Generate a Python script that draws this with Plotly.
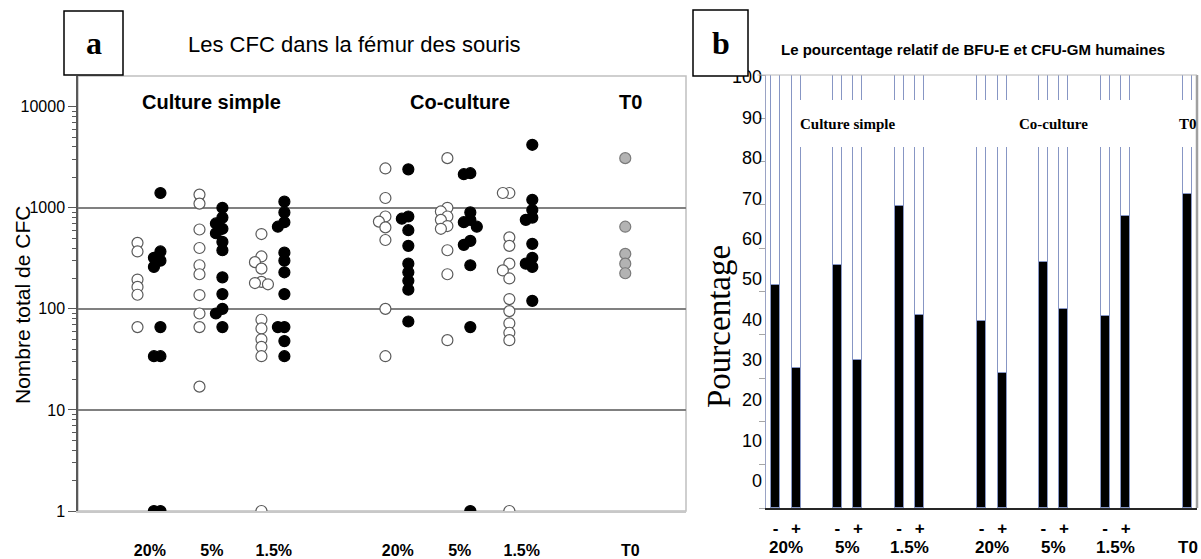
import numpy as np
import plotly.graph_objects as go

W, H = 1201, 559

# ---------------- Panel a : CFC per femur (log scale) ----------------
a_groups = ["20%", "5%", "1.5%", "20%", "5%", "1.5%", "T0"]
a_sections = ["Culture simple", "Co-culture", "T0"]

cs20_open = [450, 370, 195, 165, 138, 66]
cs20_fill = [1400, 370, 320, 300, 260, 66, 34, 34, 1, 1]
cs5_open = [1350, 1100, 610, 400, 270, 220, 137, 90, 66, 17]
cs5_fill = [1000, 800, 700, 620, 560, 460, 380, 205, 140, 100, 90, 66]
cs15_open = [550, 330, 290, 250, 185, 180, 175, 78, 64, 50, 42, 34, 1]
cs15_fill = [1150, 900, 720, 650, 360, 300, 230, 140, 66, 66, 48, 34]
co20_open = [2450, 1250, 820, 730, 640, 480, 100, 34]
co20_fill = [2400, 820, 780, 600, 420, 280, 230, 190, 155, 75]
co5_open = [3100, 1000, 920, 820, 760, 660, 620, 380, 220, 49]
co5_fill = [2200, 2150, 900, 760, 720, 650, 470, 430, 270, 66, 1]
co15_open = [1400, 1400, 510, 420, 280, 240, 200, 125, 95, 72, 58, 49, 1]
co15_fill = [4200, 1200, 950, 800, 760, 440, 320, 280, 260, 120]
t0_vals = [3100, 650, 350, 280, 225]

a_open = [cs20_open, cs5_open, cs15_open, co20_open, co5_open, co15_open]
a_fill = [cs20_fill, cs5_fill, cs15_fill, co20_fill, co5_fill, co15_fill]

# ---------------- Panel b : relative % BFU-E / CFU-GM ----------------
b_groups = ["20%", "5%", "1.5%", "20%", "5%", "1.5%", "T0"]
b_signs = ["-", "+", "-", "+", "-", "+", "-", "+", "-", "+", "-", "+", ""]
bfu_e = [51.4, 32.3, 56.2, 34.2, 69.7, 44.6, 43.1, 31.1, 56.9, 46.0, 44.3, 67.5, 72.5]
cfu_gm = [48.6, 67.7, 43.8, 65.8, 30.3, 55.4, 56.9, 68.9, 43.1, 54.0, 55.7, 32.5, 27.5]
b_ticks = list(range(0, 101, 10))

# ---------------- layout helpers ----------------
SANS = "Liberation Sans, Arial, sans-serif"
NARROW = "Liberation Sans Narrow, Arial Narrow, Liberation Sans, sans-serif"
SERIF = "Liberation Serif, Times New Roman, serif"


def px(x):
    return x / W


def py(y):
    return 1 - y / H


# panel a geometry
A_X0, A_X1, A_Y0, A_Y1 = 78, 686, 76, 511
a_slots = [0, 1, 2, 4, 5, 6, 7.75]
a_section_slots = [1, 5, 7.75]
a_xrange = [-1.16, 8.65]
a_decades = 4.304
decade_px = (A_Y1 - A_Y0) / a_decades
unit_px = (A_X1 - A_X0) / (a_xrange[1] - a_xrange[0])
dodge_step = 6.5 / unit_px

# panel b geometry
B_X0, B_X1, B_Y0, B_Y1 = 766, 1197, 75, 508
bar_slots = [0, 1, 3, 4, 6, 7, 10, 11, 13, 14, 16, 17, 20]
b_pair_centers = [0.5, 3.5, 6.5, 10.5, 13.5, 16.5, 20]
b_section_centers = [3.5, 13.5, 20]


def dodge(values, min_gap=7.0, order=(0, -1, 1, -2, 2)):
    """Side-step points whose markers would sit on top of each other."""
    placed, shifts = [], []
    for v in values:
        y = np.log10(v) * decade_px
        for k in order:
            if all(abs(y - yy) >= min_gap for yy, kk in placed if kk == k):
                break
        placed.append((y, k))
        shifts.append(k)
    return shifts


fig = go.Figure()

# invisible point keeps the overlaid tick-label axis of panel a alive
fig.add_trace(go.Scatter(x=[0], y=[1], mode="markers", marker=dict(opacity=0),
                         xaxis="x", yaxis="y3", showlegend=False, hoverinfo="skip"))


def add_column(vals, slot, side, fill, line):
    shifts = dodge(vals)
    xs = [slot + side + k * dodge_step for k in shifts]
    fig.add_trace(go.Scatter(
        x=xs, y=vals, mode="markers", xaxis="x", yaxis="y", showlegend=False,
        marker=dict(symbol="circle", size=11, color=fill,
                    line=dict(color=line, width=1.2)),
    ))


for i in range(6):
    add_column(a_open[i], a_slots[i], -0.2, "white", "#5a5a5a")
    add_column(a_fill[i], a_slots[i], 0.17, "black", "black")
add_column(t0_vals, a_slots[6], -0.08, "#b3b3b3", "#7a7a7a")

# panel b stacked bars
fig.add_trace(go.Bar(x=bar_slots, y=bfu_e, width=0.44, name="BFU-E",
                     marker=dict(color="black", line=dict(color="#8796c4", width=1)),
                     xaxis="x2", yaxis="y2", showlegend=False))
fig.add_trace(go.Bar(x=bar_slots, y=cfu_gm, width=0.44, name="CFU-GM",
                     marker=dict(color="white", line=dict(color="#8796c4", width=1)),
                     xaxis="x2", yaxis="y2", showlegend=False))
fig.add_trace(go.Scatter(x=[0], y=[0], mode="markers", marker=dict(opacity=0),
                         xaxis="x2", yaxis="y4", showlegend=False, hoverinfo="skip"))

minor_vals = [m * 10 ** k for k in range(4) for m in range(2, 10)]

fig.update_layout(
    width=W, height=H,
    margin=dict(l=0, r=0, t=0, b=0, autoexpand=False),
    paper_bgcolor="white", plot_bgcolor="white",
    barmode="stack", bargap=0,
    font=dict(family=SANS, color="black"),
    xaxis=dict(domain=[px(A_X0), px(A_X1)], range=a_xrange, anchor="y",
               tickmode="array", tickvals=a_slots, ticktext=a_groups,
               tickfont=dict(size=16, family=SANS, weight="bold"),
               ticks="", ticklabelstandoff=24, showgrid=False, zeroline=False,
               showline=True, linecolor="#c8c8c8", linewidth=2, automargin=False),
    yaxis=dict(type="log", domain=[py(A_Y1), py(A_Y0)], range=[0, a_decades],
               anchor="x", tickmode="array", tickvals=[10, 100, 1000],
               showticklabels=False, ticks="", showgrid=True,
               gridcolor="#808080", gridwidth=2, zeroline=False, showline=False,
               automargin=False),
    yaxis3=dict(type="log", overlaying="y", anchor="x", range=[0, a_decades],
                tickmode="array", tickvals=[1, 10, 100, 1000, 10000],
                ticktext=["1", "10", "100", "1000", "10000"],
                tickfont=dict(size=16, family=SANS), ticks="outside", ticklen=8,
                tickcolor="#595959", showline=True, linecolor="#595959",
                linewidth=1.5, showgrid=False, zeroline=False, automargin=False,
                minor=dict(tickmode="array", tickvals=minor_vals, ticks="outside",
                           ticklen=4, tickcolor="#595959", showgrid=False)),
    xaxis2=dict(domain=[px(B_X0), px(B_X1)], range=[-0.46, 20.46], anchor="y2",
                tickmode="array", tickvals=bar_slots, ticktext=b_signs,
                tickfont=dict(size=17, family=NARROW, weight="bold"),
                ticks="", ticklabelstandoff=4, showgrid=False, zeroline=False,
                showline=True, linecolor="#262626", linewidth=1.5, automargin=False),
    yaxis2=dict(domain=[py(B_Y1), py(B_Y0)], range=[0, 100], anchor="x2",
                tickmode="array", tickvals=b_ticks, showticklabels=False,
                ticks="outside", ticklen=6, tickcolor="#a6a6a6",
                showline=True, linecolor="#9aa3c4", linewidth=1.2,
                showgrid=False, zeroline=False, automargin=False),
    yaxis4=dict(overlaying="y2", anchor="x2", range=[-6.7, 100.5],
                tickmode="array", tickvals=b_ticks,
                tickfont=dict(size=18, family=NARROW), ticks="",
                ticklabelstandoff=3, automargin=False,
                showline=False, showgrid=False, zeroline=False),
)

shapes = [
    # panel a frame
    dict(type="rect", xref="x domain", yref="y domain", x0=0, x1=1, y0=0, y1=1,
         line=dict(color="#c0c0c0", width=1.5), layer="below"),
    # panel b right and top edges
    dict(type="line", xref="x2 domain", yref="y2 domain", x0=1, x1=1, y0=0, y1=1,
         line=dict(color="#a0a0a0", width=2.5), layer="above"),
    dict(type="line", xref="x2 domain", yref="y2 domain", x0=-0.02, x1=1, y0=1, y1=1,
         line=dict(color="#b8b8b8", width=1), layer="above"),
    # white band behind the section names in panel b
    dict(type="rect", xref="x2", yref="y2", x0=0.85, x1=20.35, y0=83.4, y1=94.2,
         fillcolor="white", line=dict(width=0), layer="above"),
    # panel letter boxes
    dict(type="rect", xref="paper", yref="paper", x0=px(64), x1=px(123),
         y0=py(75), y1=py(11), fillcolor="white",
         line=dict(color="black", width=1.5), layer="above"),
    dict(type="rect", xref="paper", yref="paper", x0=px(693), x1=px(748),
         y0=py(76), y1=py(10), fillcolor="white",
         line=dict(color="black", width=1.5), layer="above"),
]


def note(text, x, y, font, xref="paper", yref="paper", angle=0):
    return dict(text=text, x=x, y=y, xref=xref, yref=yref, showarrow=False,
                xanchor="center", yanchor="middle", textangle=angle, font=font)


annotations = [
    note("a", px(94), py(43), dict(family=SERIF, size=32, weight="bold")),
    note("b", px(721), py(43), dict(family=SERIF, size=32, weight="bold")),
    note("Les CFC dans la fémur des souris", px(354), py(45),
         dict(family=SANS, size=22)),
    note("Le pourcentage relatif de BFU-E et CFU-GM humaines", px(973), py(49),
         dict(family=NARROW, size=15, weight="bold")),
    note("Nombre total de CFC", px(22), py(305), dict(family=SANS, size=21), angle=-90),
    note("Pourcentage", px(719), py(327), dict(family=SERIF, size=33), angle=-90),
]

for name, slot in zip(a_sections, a_section_slots):
    annotations.append(note(name, slot, py(102),
                            dict(family=SANS, size=20, weight="bold"), xref="x"))

for name, slot in zip(a_sections, b_section_centers):
    annotations.append(note(name, slot, 88.8,
                            dict(family=SERIF, size=15, weight="bold"),
                            xref="x2", yref="y2"))

for name, slot in zip(b_groups, b_pair_centers):
    annotations.append(note(name, slot, py(547),
                            dict(family=NARROW, size=17, weight="bold"), xref="x2"))

fig.update_layout(shapes=shapes, annotations=annotations)
fig.write_html("out.html")
